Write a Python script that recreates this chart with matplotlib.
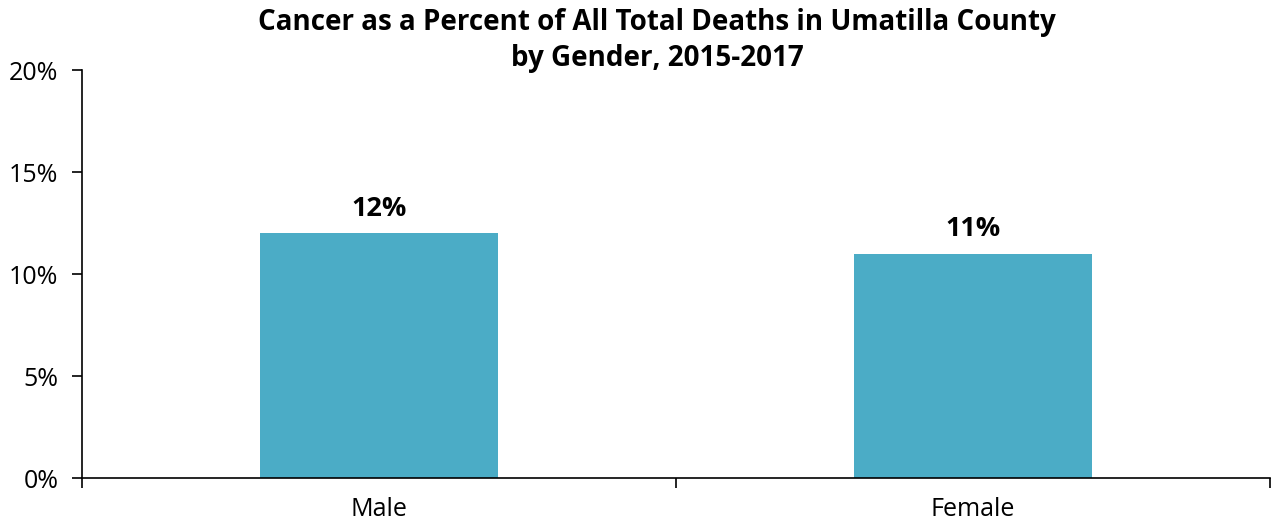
import matplotlib
matplotlib.use("Agg")
import matplotlib.pyplot as plt
from matplotlib.ticker import FixedLocator, NullFormatter

categories = ["Male", "Female"]
values = [12, 11]
bar_labels = ["12%", "11%"]
y_ticks = [0, 5, 10, 15, 20]
y_tick_labels = ["0%", "5%", "10%", "15%", "20%"]
title = "Cancer as a Percent of All Total Deaths in Umatilla County\nby Gender, 2015-2017"

plt.rcParams['font.family'] = ['Open Sans', 'DejaVu Sans']

fig = plt.figure(figsize=(12.81, 5.24), dpi=100)
ax = fig.add_axes([82/1281, 1-478/524, (1270-82)/1281, (478-70)/524])

x = list(range(len(categories)))
ax.bar(x, values, width=0.40, color="#4BACC6")
ax.set_xlim(-0.5, len(categories) - 0.5)
ax.set_ylim(0, 20)

for xi, v, lab in zip(x, values, bar_labels):
    ax.annotate(lab, (xi, v), xytext=(0, 8), textcoords="offset points",
                ha="center", va="bottom", fontsize=19.5, fontweight="bold")

ax.set_yticks(y_ticks)
ax.set_yticklabels(y_tick_labels, fontsize=18)
ax.set_xticks(x)
ax.set_xticklabels(categories, fontsize=18)
ax.tick_params(axis="x", length=0, pad=14)
ax.xaxis.set_minor_locator(FixedLocator([-0.5, 0.5, 1.5]))
ax.xaxis.set_minor_formatter(NullFormatter())
ax.tick_params(axis="x", which="minor", length=7, width=1.2, direction="out")
ax.tick_params(axis="y", length=7, width=1.2, direction="out", pad=10)

for s in ["top", "right"]:
    ax.spines[s].set_visible(False)
for s in ["left", "bottom"]:
    ax.spines[s].set_linewidth(1.2)

fig.suptitle(title, fontsize=20, fontweight="bold", y=0.984, va="top", x=0.513, linespacing=1.3)

fig.savefig("out.png", dpi=100)
